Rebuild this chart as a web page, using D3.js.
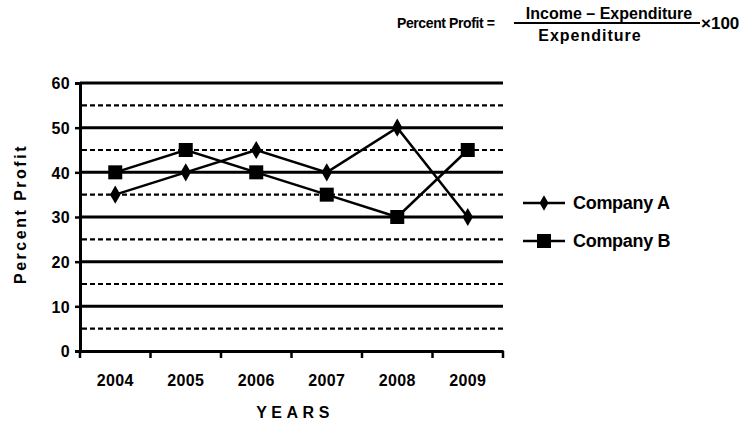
<!DOCTYPE html>
<html>
<head>
<meta charset="utf-8">
<script src="https://cdn.jsdelivr.net/npm/d3@7/dist/d3.min.js"></script>
<style>
  body{margin:0;background:#fff;}
  text{font-family:"Liberation Sans",Arial,sans-serif;font-weight:bold;fill:#000;}
</style>
</head>
<body>
<div id="chart"></div>
<script>
var years = ["2004","2005","2006","2007","2008","2009"];
var companyA = [35, 40, 45, 40, 50, 30];
var companyB = [40, 45, 40, 35, 30, 45];
var yTicks = [0, 10, 20, 30, 40, 50, 60];
var yDashed = [5, 15, 25, 35, 45, 55];
var seriesNames = ["Company A", "Company B"];

var width = 752, height = 421;
var margin = {top:83, right:249, bottom:70, left:80};
var plotWidth = width - margin.left - margin.right;
var plotHeight = height - margin.top - margin.bottom;

var svg = d3.select('#chart').append('svg').attr('width',width).attr('height',height);
var plotArea = svg.append('g').attr("transform","translate("+margin.left+","+margin.top+")");

var xs = d3.scaleBand().range([0,plotWidth]).domain(years).padding(0);
var ys = d3.scaleLinear().range([plotHeight,0]).domain([0,60]);

// grid lines
plotArea.selectAll('line.dash').data(yDashed).enter().append('line')
    .attr('x1',2).attr('x2',plotWidth)
    .attr('y1',function(d){return ys(d);}).attr('y2',function(d){return ys(d);})
    .attr('stroke','#000').attr('stroke-width',2.2).attr('stroke-dasharray','5,3');
plotArea.selectAll('line.grid').data(yTicks.filter(function(d){return d>0;})).enter().append('line')
    .attr('x1',0).attr('x2',plotWidth)
    .attr('y1',function(d){return ys(d);}).attr('y2',function(d){return ys(d);})
    .attr('stroke','#000').attr('stroke-width',3);

// y axis
var yAxis = plotArea.append('g')
    .call(d3.axisLeft(ys).tickValues(yTicks).tickSize(5).tickPadding(5));
yAxis.select('.domain').attr('stroke-width',3);
yAxis.selectAll('.tick line').attr('stroke-width',2.5);
yAxis.selectAll('.tick text').style('font-size','16px').attr('dy','0.36em')
    .style('letter-spacing','0.3px');

// x axis
var xAxis = plotArea.append('g').attr("transform","translate(0,"+plotHeight+")")
    .call(d3.axisBottom(xs).tickSize(0).tickPadding(24));
xAxis.select('.domain').attr('stroke-width',3);
xAxis.selectAll('.tick text').style('font-size','16px').style('letter-spacing','0.3px');
var bounds = years.map(function(d){return xs(d);}).concat([xs.range()[1]]);
xAxis.selectAll('line.xt').data(bounds).enter().append('line')
    .attr('x1',function(d){return d;}).attr('x2',function(d){return d;})
    .attr('y1',0).attr('y2',7).attr('stroke','#000').attr('stroke-width',2.5);

// lines
var line = d3.line()
    .x(function(d,i){return xs(years[i]) + xs.bandwidth()/2;})
    .y(function(d){return ys(d);});
plotArea.append('path').datum(companyA).attr('d',line)
    .attr('fill','none').attr('stroke','#000').attr('stroke-width',2.5);
plotArea.append('path').datum(companyB).attr('d',line)
    .attr('fill','none').attr('stroke','#000').attr('stroke-width',2.5);

var diamond = d3.symbol().type(d3.symbolDiamond).size(95);
plotArea.selectAll('path.ma').data(companyA).enter().append('path')
    .attr('d',diamond)
    .attr('transform',function(d,i){return "translate("+(xs(years[i])+xs.bandwidth()/2)+","+ys(d)+")";});
plotArea.selectAll('rect.mb').data(companyB).enter().append('rect')
    .attr('x',function(d,i){return xs(years[i])+xs.bandwidth()/2-7;})
    .attr('y',function(d){return ys(d)-7;})
    .attr('width',14).attr('height',14);

// axis titles
svg.append('text').attr('x',295).attr('y',418).attr('text-anchor','middle')
    .style('font-size','16px').style('letter-spacing','4.5px').text('YEARS');
svg.append('text').attr('transform','translate(26,214) rotate(-90)').attr('text-anchor','middle')
    .style('font-size','16px').style('letter-spacing','2.5px').text('Percent Profit');

// legend
var legend = svg.append('g').attr('transform','translate(523,203)');
seriesNames.forEach(function(name,i){
    var g = legend.append('g').attr('transform','translate(0,'+(i*38)+')');
    g.append('line').attr('x1',0).attr('x2',42).attr('y1',0).attr('y2',0)
        .attr('stroke','#000').attr('stroke-width',2.5);
    if(i===0) g.append('path').attr('d',d3.symbol().type(d3.symbolDiamond).size(70)).attr('transform','translate(21,0)');
    else g.append('rect').attr('x',14).attr('y',-7).attr('width',14).attr('height',14);
    g.append('text').attr('x',50).attr('dy','0.36em').style('font-size','18px')
        .style('letter-spacing','-0.3px').text(name);
});

// formula
var f = svg.append('g');
f.append('text').attr('x',397).attr('y',28).style('font-size','14px')
    .style('letter-spacing','-0.4px').text('Percent Profit =');
f.append('line').attr('x1',514).attr('x2',700).attr('y1',23).attr('y2',23)
    .attr('stroke','#000').attr('stroke-width',2);
f.append('text').attr('x',609).attr('y',19).attr('text-anchor','middle').style('font-size','16px')
    .style('letter-spacing','0px').text('Income \u2013 Expenditure');
f.append('text').attr('x',590).attr('y',41).attr('text-anchor','middle').style('font-size','16px')
    .style('letter-spacing','1px').text('Expenditure');
f.append('text').attr('x',701).attr('y',29).style('font-size','17px')
    .style('letter-spacing','0px').text('\u00d7100');
</script>
</body>
</html>
